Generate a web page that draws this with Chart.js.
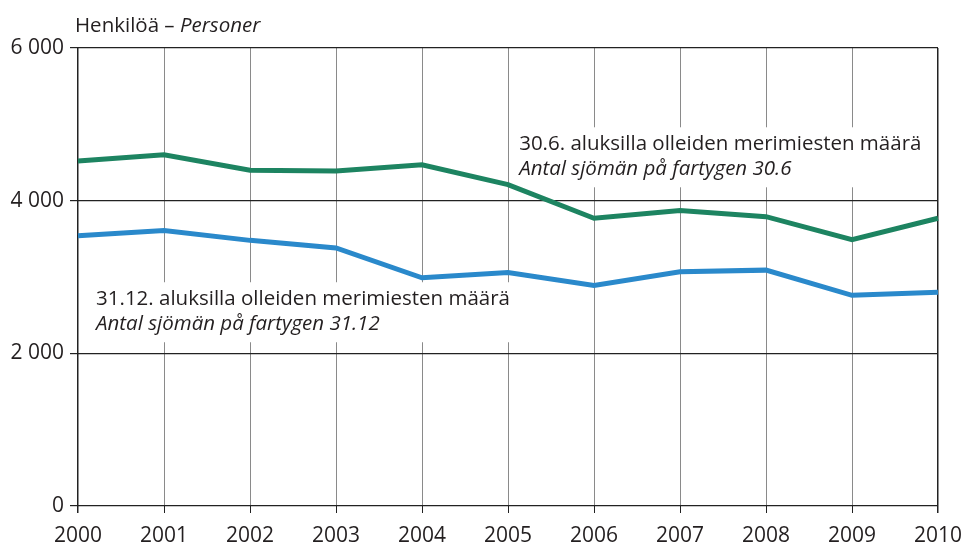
<!DOCTYPE html>
<html>
<head>
<meta charset="utf-8">
<script src="https://cdn.jsdelivr.net/npm/chart.js@4"></script>
<style>
  html, body { margin: 0; padding: 0; background: #fff; }
  #wrap { width: 969px; height: 543px; position: relative; }
</style>
</head>
<body>
<div id="wrap"><canvas id="myLineChart"></canvas></div>
<script>
var years = ["2000", "2001", "2002", "2003", "2004", "2005", "2006", "2007", "2008", "2009", "2010"];
var june30 = [4520, 4600, 4400, 4390, 4470, 4210, 3770, 3870, 3790, 3490, 3770];
var dec31 = [3540, 3610, 3480, 3380, 2990, 3060, 2890, 3070, 3090, 2760, 2800];
var yTicks = [0, 2000, 4000, 6000];

var FONT = "'Open Sans', 'Noto Sans', sans-serif";
var textColor = "#231f20";
var noteSize = 20.5;

// text labels placed in data space: x = category index, y = value of first baseline
var notes = [
    { x: 0.21, y: 2630, lines: ["31.12. aluksilla olleiden merimiesten määrä", "Antal sjömän på fartygen 31.12"] },
    { x: 5.13, y: 4660, lines: ["30.6. aluksilla olleiden merimiesten määrä", "Antal sjömän på fartygen 30.6"] }
];

function fmt(v) {
    return String(v).replace(/\B(?=(\d{3})+(?!\d))/g, " ");
}

var notesPlugin = {
    id: 'notes',
    beforeDatasetsDraw: function (chart) {
        var ctx = chart.ctx, xs = chart.scales.x, ys = chart.scales.y;
        ctx.save();
        notes.forEach(function (n) {
            var px = xs.getPixelForValue(n.x), py = ys.getPixelForValue(n.y);
            ctx.font = noteSize + "px " + FONT;
            var w = ctx.measureText(n.lines[0]).width;
            ctx.fillStyle = "#fff";
            ctx.fillRect(px - 8, py - 23, w + 12, 60);
            ctx.fillStyle = textColor;
            ctx.textBaseline = "alphabetic";
            ctx.textAlign = "left";
            ctx.fillText(n.lines[0], px, py);
            ctx.font = "italic " + noteSize + "px " + FONT;
            ctx.fillText(n.lines[1], px, py + 25);
        });
        ctx.restore();
    },
    afterDraw: function (chart) {
        var ctx = chart.ctx, a = chart.chartArea;
        ctx.save();
        ctx.fillStyle = textColor;
        ctx.textBaseline = "alphabetic";
        ctx.textAlign = "left";
        ctx.font = noteSize + "px " + FONT;
        var t1 = "Henkilöä – ";
        ctx.fillText(t1, a.left - 3, 32);
        var w = ctx.measureText(t1).width;
        ctx.font = "italic " + noteSize + "px " + FONT;
        ctx.fillText("Personer", a.left - 3 + w, 32);
        ctx.restore();
    }
};

var lineData = {
    labels: years,
    datasets: [
        {
            label: "30.6",
            data: june30,
            borderColor: "#1d8461",
            backgroundColor: "#1d8461",
            borderWidth: 5,
            pointRadius: 0,
            tension: 0,
            fill: false
        },
        {
            label: "31.12",
            data: dec31,
            borderColor: "#2a89cb",
            backgroundColor: "#2a89cb",
            borderWidth: 5,
            pointRadius: 0,
            tension: 0,
            fill: false
        }
    ]
};

var myLineChart = new Chart(document.getElementById("myLineChart"), {
    type: 'line',
    data: lineData,
    plugins: [notesPlugin],
    options: {
        responsive: true,
        maintainAspectRatio: false,
        animation: false,
        layout: { padding: { left: 0, right: 31, top: 48, bottom: 0 } },
        plugins: {
            legend: { display: false },
            tooltip: { enabled: false }
        },
        scales: {
            x: {
                offset: false,
                grid: {
                    color: function (c) {
                        return (c.index === 0 || c.index === years.length - 1) ? "#222" : "#8a8a8a";
                    },
                    lineWidth: function (c) {
                        return (c.index === 0 || c.index === years.length - 1) ? 1.5 : 1;
                    },
                    tickLength: 7,
                    tickColor: "#222",
                    drawTicks: true
                },
                border: { display: false },
                ticks: {
                    color: textColor,
                    font: { family: FONT, size: 21 },
                    padding: 10,
                    maxRotation: 0,
                    autoSkip: false
                },
                afterFit: function (s) {
                    s.height = 37;
                    s.paddingLeft = 0;
                    s.paddingRight = 0;
                }
            },
            y: {
                min: 0,
                max: 6000,
                afterBuildTicks: function (s) {
                    s.ticks = yTicks.map(function (v) { return { value: v }; });
                },
                grid: {
                    color: "#222",
                    lineWidth: 1.2,
                    tickLength: 8,
                    tickColor: "#222"
                },
                border: { display: false },
                ticks: {
                    color: textColor,
                    font: { family: FONT, size: 21 },
                    padding: 6,
                    callback: function (v) { return fmt(v); }
                },
                afterFit: function (s) { s.width = 78; }
            }
        }
    }
});
</script>
</body>
</html>
